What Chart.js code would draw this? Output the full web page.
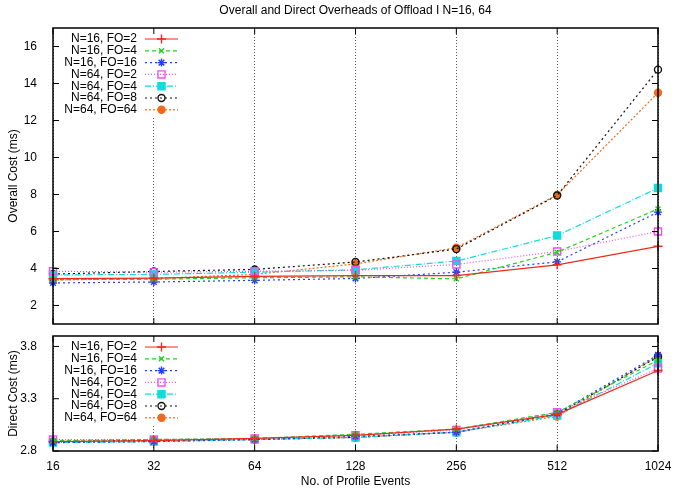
<!DOCTYPE html>
<html lang="en">
<head>
<meta charset="UTF-8">
<title>Overall and Direct Overheads of Offload</title>
<style>
  body { margin: 0; background: #fff; }
  #wrap { position: relative; width: 692px; height: 494px; }
  #overallChart { position: absolute; left: 0; top: 0; }
  #directChart { position: absolute; left: 0; top: 320px; }
</style>
</head>
<body>
<div id="wrap">
  <canvas id="overallChart" width="692" height="340"></canvas>
  <canvas id="directChart" width="692" height="174"></canvas>
</div>
<script src="https://cdn.jsdelivr.net/npm/chart.js"></script>
<script>
// number of profile events (log2 steps, evenly spaced)
const events = ['16', '32', '64', '128', '256', '512', '1024'];

// overall cost (ms)
const overall16fo2  = [3.45, 3.48, 3.57, 3.62, 3.62, 4.20, 5.20];
const overall16fo4  = [3.40, 3.42, 3.50, 3.55, 3.44, 4.88, 7.22];
const overall16fo16 = [3.22, 3.27, 3.36, 3.46, 3.80, 4.36, 7.05];
const overall64fo2  = [3.85, 3.80, 3.85, 3.90, 4.22, 4.92, 6.00];
const overall64fo4  = [3.65, 3.68, 3.80, 3.93, 4.40, 5.78, 8.35];
const overall64fo8  = [3.70, 3.84, 3.95, 4.35, 5.05, 7.95, 14.75];
const overall64fo64 = [3.38, 3.46, 3.68, 4.25, 5.12, 7.98, 13.50];

// direct cost (ms)
const direct16fo2  = [2.89, 2.90, 2.92, 2.95, 3.01, 3.15, 3.57];
const direct16fo4  = [2.90, 2.91, 2.92, 2.96, 3.01, 3.17, 3.67];
const direct16fo16 = [2.88, 2.89, 2.91, 2.94, 2.98, 3.16, 3.72];
const direct64fo2  = [2.91, 2.91, 2.92, 2.95, 3.00, 3.17, 3.59];
const direct64fo4  = [2.88, 2.89, 2.91, 2.93, 2.98, 3.14, 3.64];
const direct64fo8  = [2.89, 2.90, 2.91, 2.93, 2.98, 3.15, 3.70];
const direct64fo64 = [2.89, 2.90, 2.91, 2.93, 2.98, 3.13, 3.71];

// y tick values
const overallTicks = [2, 4, 6, 8, 10, 12, 14, 16];
const directTicks = [2.8, 3.3, 3.8];

const series = [
  { label: 'N=16, FO=2',  overall: overall16fo2,  direct: direct16fo2,  color: '#ee2a1a', dash: [],           point: 'cross',    radius: 4.5, open: false },
  { label: 'N=16, FO=4',  overall: overall16fo4,  direct: direct16fo4,  color: '#21d321', dash: [4, 3],       point: 'crossRot', radius: 3.5, open: false },
  { label: 'N=16, FO=16', overall: overall16fo16, direct: direct16fo16, color: '#1f3fff', dash: [2, 3],       point: 'star',     radius: 4,   open: false },
  { label: 'N=64, FO=2',  overall: overall64fo2,  direct: direct64fo2,  color: '#f24ff2', dash: [1, 2],       point: 'rect',     radius: 5,   open: true },
  { label: 'N=64, FO=4',  overall: overall64fo4,  direct: direct64fo4,  color: '#10dcdc', dash: [6, 2, 1, 2], point: 'rect',     radius: 5,   open: false },
  { label: 'N=64, FO=8',  overall: overall64fo8,  direct: direct64fo8,  color: '#111111', dash: [2, 3],       point: 'circle',   radius: 3.5, open: true },
  { label: 'N=64, FO=64', overall: overall64fo64, direct: direct64fo64, color: '#f2691a', dash: [2, 2],       point: 'circle',   radius: 3.5, open: false }
];

Chart.defaults.font.family = '"Liberation Sans", Arial, sans-serif';
Chart.defaults.font.size = 12;
Chart.defaults.color = '#000';

function makeDatasets(key) {
  return series.map(s => ({
    label: s.label,
    data: s[key],
    borderColor: s.color,
    backgroundColor: s.color,
    borderWidth: 1.2,
    borderDash: s.dash,
    pointStyle: s.point,
    pointRadius: s.radius,
    pointBorderColor: s.color,
    pointBorderWidth: 1.4,
    pointBackgroundColor: s.open ? 'rgba(0,0,0,0)' : s.color,
    tension: 0,
    clip: false
  }));
}

// gnuplot style key: right aligned text, line sample with marker
const keyBox = {
  id: 'keyBox',
  beforeDatasetsDraw(chart) {
    const { ctx, chartArea } = chart;
    const textRight = 137, lineL = 145, lineR = 178, rowH = 11.8;
    const first = chartArea.top + 11;
    ctx.save();
    ctx.fillStyle = '#fff';
    ctx.fillRect(chartArea.left + 2, chartArea.top + 3, lineR + 6 - chartArea.left, rowH * 7 + 4);
    ctx.font = '12px "Liberation Sans", Arial, sans-serif';
    ctx.textAlign = 'right';
    ctx.textBaseline = 'middle';
    chart.data.datasets.forEach((ds, i) => {
      const y = first + i * rowH;
      ctx.fillStyle = '#000';
      ctx.fillText(ds.label, textRight, y);
      ctx.strokeStyle = ds.borderColor;
      ctx.lineWidth = ds.borderWidth;
      ctx.setLineDash(ds.borderDash);
      ctx.beginPath();
      ctx.moveTo(lineL, y);
      ctx.lineTo(lineR, y);
      ctx.stroke();
      ctx.setLineDash([]);
      ctx.lineWidth = ds.pointBorderWidth;
      ctx.fillStyle = ds.pointBackgroundColor;
      Chart.helpers.drawPoint(ctx, { pointStyle: ds.pointStyle, radius: ds.pointRadius, rotation: 0, borderWidth: ds.pointBorderWidth }, (lineL + lineR) / 2, y);
    });
    ctx.restore();
  }
};

// border box with inward tick marks on all four sides
const frame = {
  id: 'frame',
  afterDraw(chart) {
    const { ctx, chartArea: a, scales: { x, y } } = chart;
    ctx.save();
    ctx.strokeStyle = '#000';
    ctx.lineWidth = 1;
    ctx.beginPath();
    y.ticks.forEach(t => {
      const py = y.getPixelForValue(t.value);
      ctx.moveTo(a.left, py); ctx.lineTo(a.left + 6, py);
      ctx.moveTo(a.right, py); ctx.lineTo(a.right - 6, py);
    });
    x.ticks.forEach((t, i) => {
      const px = x.getPixelForTick(i);
      ctx.moveTo(px, a.bottom); ctx.lineTo(px, a.bottom - 6);
      ctx.moveTo(px, a.top); ctx.lineTo(px, a.top + 6);
    });
    ctx.stroke();
    ctx.lineWidth = 1.5;
    ctx.strokeRect(a.left, a.top, a.right - a.left, a.bottom - a.top);
    ctx.restore();
  }
};

// title centred over the plot area rather than the whole canvas
const plotTitle = {
  id: 'plotTitle',
  afterDraw(chart, args, opts) {
    const { ctx, chartArea: a } = chart;
    ctx.save();
    ctx.font = '12px "Liberation Sans", Arial, sans-serif';
    ctx.fillStyle = '#000';
    ctx.textAlign = 'center';
    ctx.textBaseline = 'middle';
    ctx.fillText(opts.text, (a.left + a.right) / 2, 11);
    ctx.restore();
  }
};

function xAxis(showLabels, height) {
  return {
    grid: { display: true, color: '#555', lineWidth: 1, drawTicks: false },
    border: { display: false, dash: [1, 2] },
    ticks: { display: showLabels, padding: 8, maxRotation: 0, autoSkip: false },
    title: { display: showLabels, text: 'No. of Profile Events', padding: { top: 0, bottom: 5 } },
    afterFit(scale) { scale.height = height; }
  };
}

function yAxis(min, max, tickValues, titleText, digits) {
  return {
    min: min,
    max: max,
    grid: { display: false },
    border: { display: false },
    ticks: { padding: 8, callback: v => v.toFixed(digits) },
    title: { display: true, text: titleText, padding: { top: 6, bottom: 0 } },
    afterBuildTicks(scale) { scale.ticks = tickValues.map(v => ({ value: v })); },
    afterFit(scale) { scale.width = 53; }
  };
}

new Chart(document.getElementById('overallChart'), {
  type: 'line',
  data: { labels: events, datasets: makeDatasets('overall') },
  options: {
    responsive: false,
    animation: false,
    layout: { padding: { top: 28, right: 34, bottom: 0, left: 0 } },
    plugins: {
      legend: { display: false },
      tooltip: { enabled: false },
      plotTitle: { text: 'Overall and Direct Overheads of Offload I N=16, 64' }
    },
    scales: {
      x: xAxis(false, 16),
      y: yAxis(1, 17, overallTicks, 'Overall Cost (ms)', 0)
    }
  },
  plugins: [keyBox, frame, plotTitle]
});

new Chart(document.getElementById('directChart'), {
  type: 'line',
  data: { labels: events, datasets: makeDatasets('direct') },
  options: {
    responsive: false,
    animation: false,
    layout: { padding: { top: 16, right: 34, bottom: 0, left: 0 } },
    plugins: {
      legend: { display: false },
      tooltip: { enabled: false }
    },
    scales: {
      x: xAxis(true, 43),
      y: yAxis(2.8, 3.9, directTicks, 'Direct Cost (ms)', 1)
    }
  },
  plugins: [keyBox, frame]
});
</script>
</body>
</html>
